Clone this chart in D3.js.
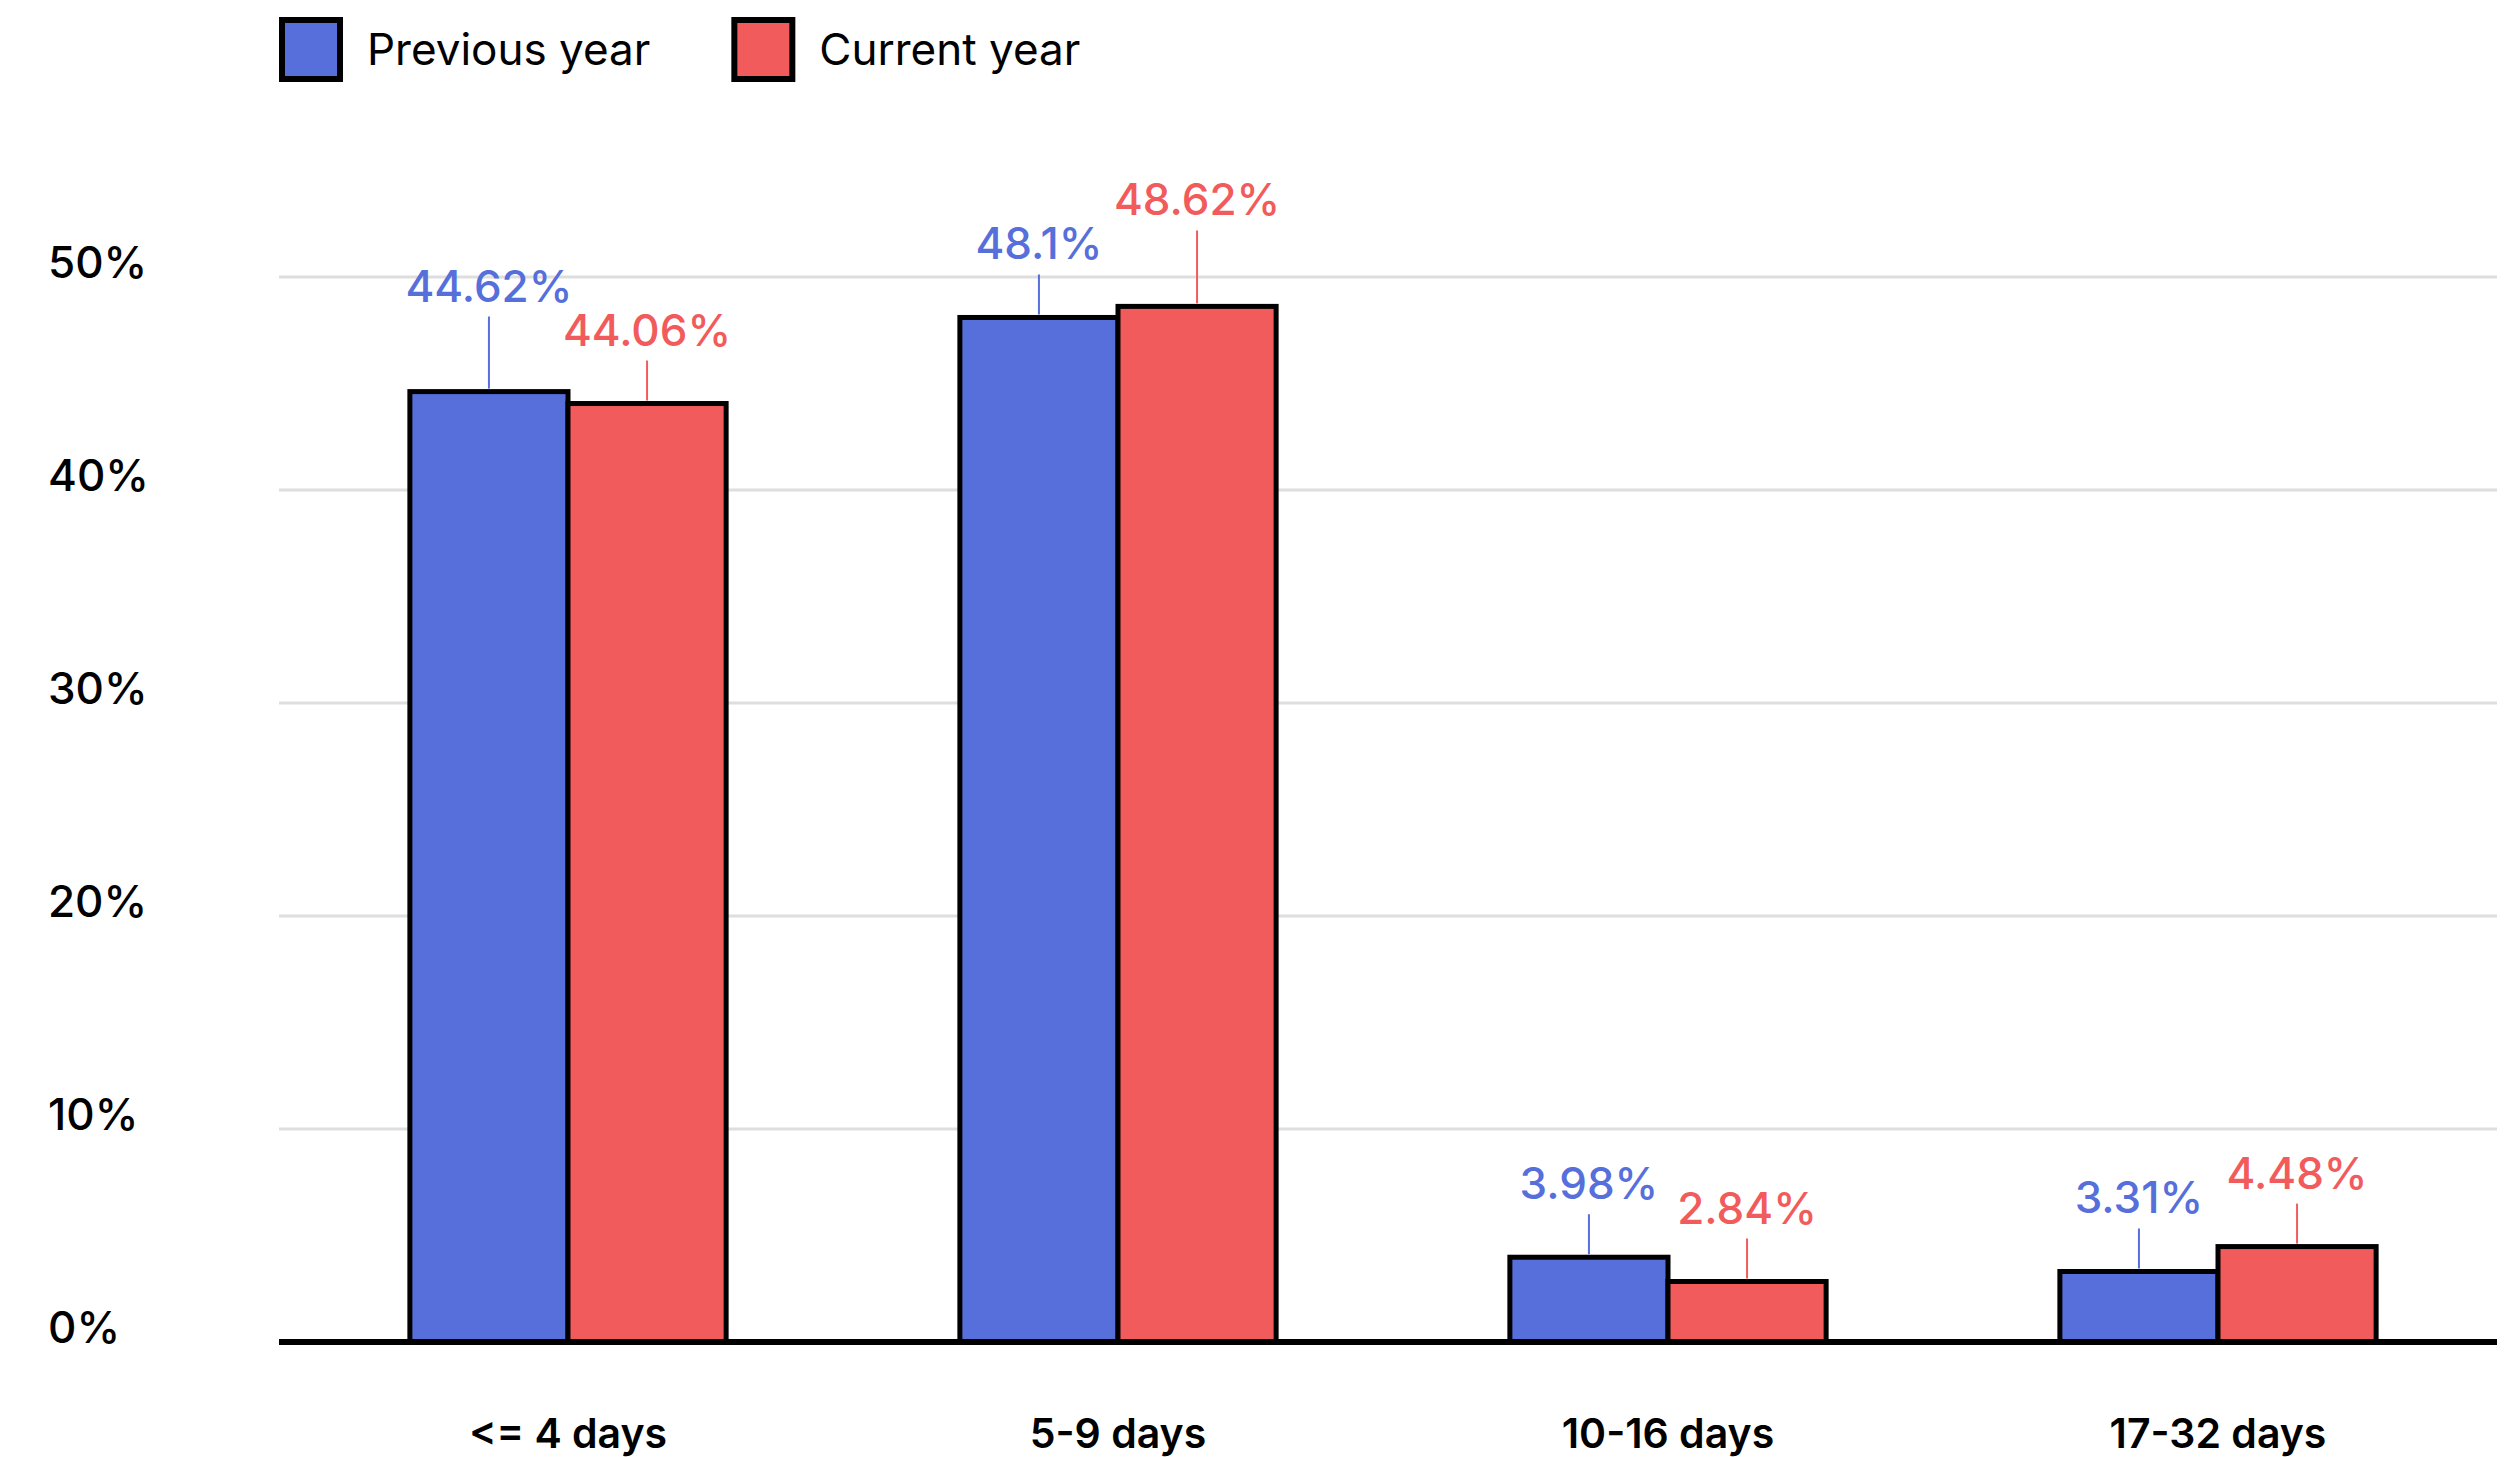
<!DOCTYPE html>
<html>
<head>
<meta charset="utf-8">
<script src="https://cdn.jsdelivr.net/npm/d3@7"></script>
<style>
  html, body { margin: 0; padding: 0; background: #fff; }
  svg { display: block; font-family: Inter, "Noto Sans", sans-serif; }
</style>
</head>
<body>
<svg id="chart" width="2515" height="1457"></svg>
<script>
// Share of stays by length, previous vs current year
const categories = ["<= 4 days", "5-9 days", "10-16 days", "17-32 days"];
const seriesNames = ["Previous year", "Current year"];
const previousYear = [44.62, 48.1, 3.98, 3.31];
const currentYear = [44.06, 48.62, 2.84, 4.48];
const yTicks = [0, 10, 20, 30, 40, 50];
const colors = ["#566FDB", "#F25B5B"];

const svg = d3.select("#chart");
const plotLeft = 279, plotRight = 2497;
const baseY = 1342;

const y = d3.scaleLinear().domain([0, 50]).range([baseY, 277]);
const x0 = d3.scaleBand().domain(categories).range([293, 2493])
  .paddingInner(0.425).paddingOuter(0.2125);
const x1 = d3.scaleBand().domain(seriesNames).range([0, x0.bandwidth()]);

const fmtPct = v => `${v}%`;

// gridlines
svg.append("g")
  .selectAll("line")
  .data(yTicks.filter(t => t > 0))
  .join("line")
  .attr("x1", plotLeft).attr("x2", plotRight)
  .attr("y1", d => y(d)).attr("y2", d => y(d))
  .attr("stroke", "#dedede").attr("stroke-width", 3);

// y tick labels, sitting just above their gridline
svg.append("g")
  .selectAll("text")
  .data(yTicks)
  .join("text")
  .attr("x", 48)
  .attr("y", d => y(d) + 1)
  .attr("font-size", 44).attr("font-weight", 500).attr("fill", "#000")
  .text(d => `${d}%`);

// bars
const rows = categories.map((c, i) => ({
  cat: c,
  vals: [previousYear[i], currentYear[i]]
}));

const groups = svg.append("g").selectAll("g")
  .data(rows).join("g")
  .attr("transform", d => `translate(${x0(d.cat)},0)`);

groups.selectAll("rect")
  .data(d => d.vals.map((v, k) => ({ v, k })))
  .join("rect")
  .attr("x", d => x1(seriesNames[d.k]))
  .attr("y", d => y(d.v))
  .attr("width", x1.bandwidth())
  .attr("height", d => baseY - y(d.v))
  .attr("fill", d => colors[d.k])
  .attr("stroke", "#000").attr("stroke-width", 5);

// value labels with leader lines; when the two labels of a group come too
// close, lift the one over the taller bar
const leader = 43, gap = 15, labelH = 44, hPad = 15;
groups.each(function (d) {
  const g = d3.select(this);
  const items = d.vals.map((v, k) => {
    const cx = x1(seriesNames[k]) + x1.bandwidth() / 2;
    const top = y(v);
    return { v, k, cx, top, base: top - leader - gap };
  });
  const tmp = items.map(it => g.append("text")
    .attr("font-size", 44).attr("font-weight", 500)
    .text(fmtPct(it.v)));
  items.forEach((it, i) => { it.w = tmp[i].node().getComputedTextLength(); tmp[i].remove(); });
  const [a, b] = items;
  const hOverlap = (a.cx + a.w / 2 + hPad) > (b.cx - b.w / 2);
  const vOverlap = Math.abs(a.base - b.base) < labelH;
  if (hOverlap && vOverlap) {
    const hi = a.v >= b.v ? a : b, lo = hi === a ? b : a;
    hi.base = Math.min(hi.base, lo.base - labelH);
  }
  items.forEach(it => {
    g.append("line")
      .attr("x1", it.cx).attr("x2", it.cx)
      .attr("y1", it.top - 3).attr("y2", it.base + gap)
      .attr("stroke", colors[it.k]).attr("stroke-width", 2);
    g.append("text")
      .attr("x", it.cx).attr("y", it.base)
      .attr("text-anchor", "middle")
      .attr("font-size", 44).attr("font-weight", 500)
      .attr("fill", colors[it.k])
      .text(fmtPct(it.v));
  });
});

// baseline axis
svg.append("line")
  .attr("x1", plotLeft).attr("x2", plotRight)
  .attr("y1", baseY).attr("y2", baseY)
  .attr("stroke", "#000").attr("stroke-width", 6);

// category labels
svg.append("g").selectAll("text")
  .data(categories).join("text")
  .attr("x", d => x0(d) + x0.bandwidth() / 2)
  .attr("y", 1448)
  .attr("text-anchor", "middle")
  .attr("font-size", 41).attr("font-weight", 600).attr("fill", "#000")
  .text(d => d);

// legend
const legend = svg.append("g");
let lx = 282;
seriesNames.forEach((name, k) => {
  legend.append("rect")
    .attr("x", lx).attr("y", 20).attr("width", 58).attr("height", 59)
    .attr("fill", colors[k]).attr("stroke", "#000").attr("stroke-width", 6);
  const t = legend.append("text")
    .attr("x", lx + 85).attr("y", 65)
    .attr("font-size", 44).attr("font-weight", 400).attr("fill", "#000")
    .text(name);
  lx = lx + 85 + t.node().getComputedTextLength() + 84;
});
</script>
</body>
</html>
